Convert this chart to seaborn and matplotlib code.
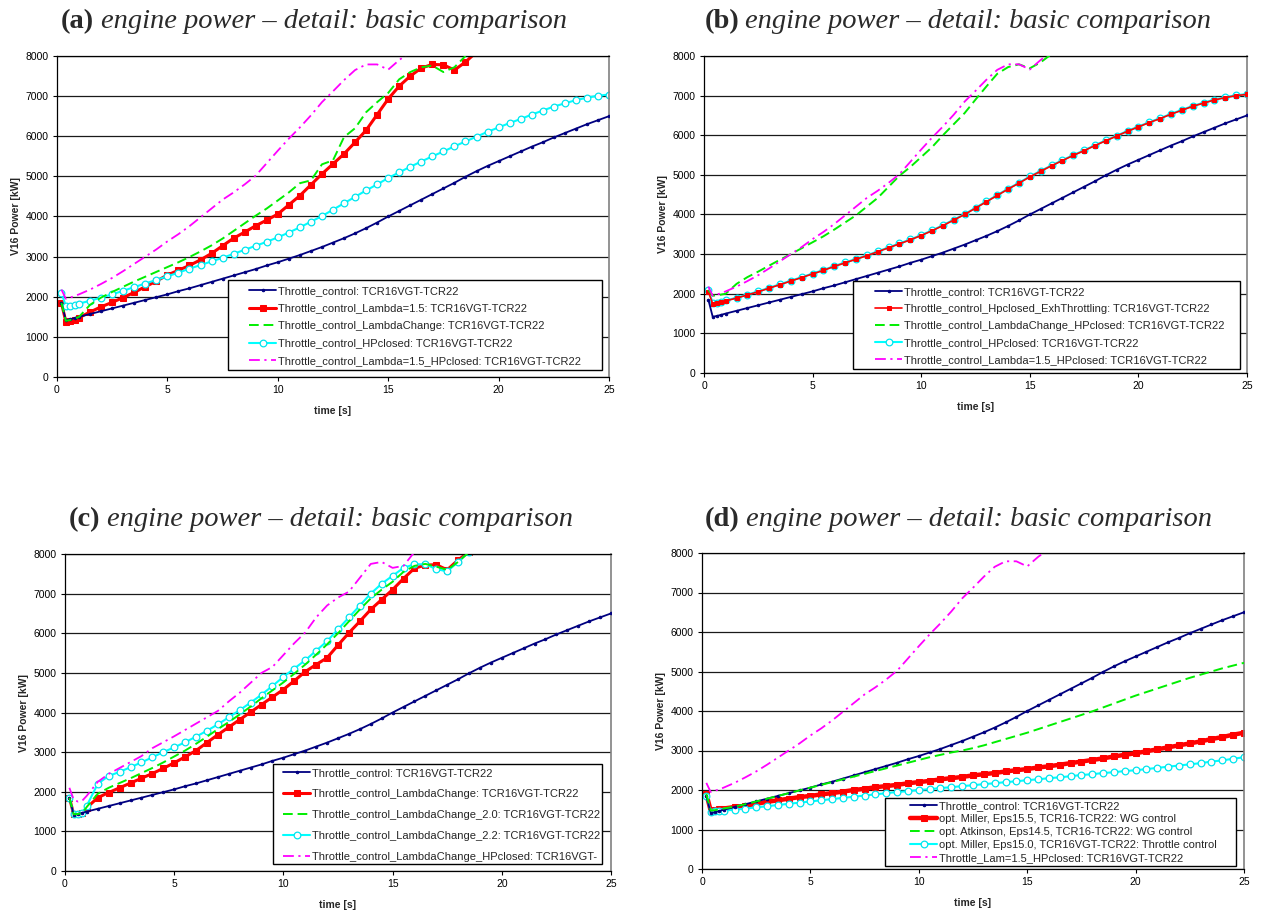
import numpy as np
import matplotlib
matplotlib.use("Agg")
import matplotlib.pyplot as plt
from matplotlib.patches import Rectangle
from matplotlib.font_manager import FontProperties
import seaborn as sns

# time grid [s]
T = np.r_[0.2, 0.4, 0.6, 0.8, np.arange(1.0, 25.01, 0.5)]

# V16 power [kW] (series stop once they leave the top)
throttle = [1850, 1420, 1440, 1470,
            1500, 1570, 1640, 1710, 1780, 1850, 1920, 1990, 2060, 2140,
            2210, 2290, 2370, 2450, 2530, 2610, 2690, 2780, 2860, 2950,
            3040, 3140, 3240, 3350, 3460, 3580, 3710, 3850, 4000, 4140,
            4280, 4420, 4560, 4700, 4840, 4990, 5130, 5260, 5380, 5500,
            5620, 5740, 5850, 5970, 6080, 6190, 6300, 6400, 6500]

hp_closed = [2100, 1770, 1770, 1790,
             1830, 1900, 1980, 2060, 2150, 2240, 2330, 2420, 2510, 2600,
             2700, 2790, 2880, 2970, 3070, 3170, 3270, 3370, 3480, 3600,
             3730, 3870, 4010, 4170, 4330, 4490, 4650, 4800, 4960, 5100,
             5240, 5370, 5500, 5620, 5750, 5870, 5990, 6110, 6220, 6330,
             6430, 6540, 6640, 6740, 6820, 6900, 6960, 7010, 7040]

hp_exh_throttling = [2050, 1750, 1760, 1780,
                     1820, 1890, 1970, 2050, 2140, 2230, 2320, 2410, 2500, 2590,
                     2690, 2780, 2870, 2960, 3060, 3160, 3260, 3360, 3470, 3590,
                     3720, 3860, 4000, 4160, 4320, 4480, 4640, 4790, 4950, 5090,
                     5230, 5360, 5490, 5610, 5740, 5860, 5980, 6100, 6210, 6320,
                     6420, 6530, 6630, 6730, 6810, 6890, 6950, 7000, 7030]

lambda15 = [1850, 1380, 1400, 1430,
            1480, 1620, 1750, 1860, 1980, 2110, 2250, 2390, 2540, 2660,
            2780, 2920, 3080, 3270, 3460, 3610, 3770, 3910, 4060, 4290,
            4520, 4790, 5060, 5310, 5560, 5850, 6150, 6540, 6930, 7250,
            7500, 7700, 7790, 7780, 7650, 7850, 8100]

lambda_change = [1850, 1400, 1420, 1450,
                 1500, 1800, 1980, 2120, 2250, 2380, 2500, 2620, 2740, 2860,
                 2990, 3130, 3280, 3450, 3640, 3830, 4020, 4200, 4400, 4600,
                 4830, 4900, 5300, 5400, 5980, 6200, 6600, 6850, 7080, 7420,
                 7600, 7720, 7760, 7600, 7720, 8000]

lambda15_hp = [2180, 1950, 1980, 2020,
               2060, 2180, 2320, 2470, 2640, 2820, 3000, 3180, 3380, 3560,
               3760, 3980, 4200, 4420, 4600, 4800, 5020, 5330, 5640, 5940,
               6220, 6520, 6850, 7120, 7400, 7650, 7790, 7790, 7660, 7900,
               8100]

lambda_change_hp = [2100, 1950, 1960, 1980,
                    2000, 2250, 2420, 2560, 2710, 2860, 3000, 3150, 3300, 3450,
                    3620, 3800, 3980, 4200, 4420, 4700, 4980, 5200, 5450, 5700,
                    6000, 6280, 6560, 6900, 7230, 7550, 7720, 7790, 7690, 7840,
                    8050]

lc_red = [1850, 1430, 1440, 1460,
          1600, 1850, 1980, 2100, 2220, 2340, 2460, 2590, 2730, 2880,
          3040, 3240, 3440, 3630, 3820, 4010, 4200, 4390, 4580, 4800,
          5030, 5210, 5380, 5700, 6010, 6300, 6600, 6850, 7100, 7380,
          7640, 7720, 7730, 7600, 7850, 8050]

lc_20 = [1850, 1430, 1440, 1460,
         1620, 1950, 2100, 2220, 2340, 2470, 2600, 2740, 2890, 3040,
         3210, 3390, 3580, 3760, 3950, 4150, 4360, 4560, 4760, 4980,
         5210, 5460, 5720, 6000, 6300, 6600, 6880, 7100, 7300, 7550,
         7700, 7750, 7680, 7600, 7800, 8050]

lc_22 = [1850, 1430, 1440, 1470,
         1650, 2200, 2400, 2500, 2620, 2740, 2870, 3000, 3120, 3250,
         3390, 3540, 3700, 3880, 4060, 4250, 4450, 4670, 4900, 5110,
         5320, 5560, 5800, 6100, 6400, 6700, 7000, 7250, 7450, 7650,
         7740, 7740, 7620, 7560, 7800, 8050]

lc_hp = [2100, 1800, 1750, 1780,
         1900, 2250, 2450, 2600, 2750, 2900, 3100, 3250, 3400, 3560,
         3720, 3880, 4040, 4280, 4500, 4750, 5000, 5150, 5450, 5750,
         6020, 6400, 6700, 6900, 7050, 7400, 7750, 7800, 7650, 7700,
         8050]

miller155 = [1900, 1480, 1490, 1510,
             1530, 1570, 1600, 1650, 1700, 1740, 1780, 1820, 1850, 1890,
             1920, 1960, 2000, 2030, 2070, 2100, 2130, 2170, 2200, 2230,
             2270, 2300, 2330, 2370, 2400, 2430, 2470, 2500, 2530, 2570,
             2600, 2640, 2680, 2720, 2760, 2800, 2850, 2890, 2930, 2980,
             3030, 3080, 3130, 3180, 3230, 3290, 3340, 3400, 3450]

atkinson145 = [1900, 1480, 1490, 1510,
               1530, 1580, 1640, 1710, 1780, 1850, 1920, 1990, 2060, 2130,
               2200, 2270, 2340, 2410, 2480, 2550, 2620, 2690, 2760, 2830,
               2890, 2950, 3000, 3060, 3130, 3210, 3290, 3370, 3450, 3540,
               3630, 3720, 3810, 3900, 3990, 4090, 4190, 4290, 4390, 4480,
               4570, 4660, 4750, 4840, 4920, 5000, 5080, 5150, 5220]

miller150 = [1850, 1450, 1460, 1470,
             1480, 1500, 1530, 1560, 1590, 1620, 1650, 1680, 1710, 1740,
             1770, 1800, 1830, 1860, 1890, 1920, 1950, 1970, 2000, 2020,
             2050, 2070, 2100, 2120, 2150, 2170, 2200, 2220, 2250, 2270,
             2300, 2320, 2350, 2380, 2400, 2430, 2450, 2480, 2500, 2530,
             2560, 2590, 2620, 2650, 2680, 2720, 2750, 2790, 2830]

# line styles
NAVY = dict(color="#000080", lw=1.3, marker="o", markersize=1.8,
            markeredgecolor="#000080", markerfacecolor="#000080")
RED = dict(color="#FF0000", lw=2.2, marker="s", markersize=4.8,
           markeredgecolor="#FF0000", markerfacecolor="#FF0000")
GREEN = dict(color="#00EE00", lw=1.4, dashes=(5, 2.5))
CYAN = dict(color="#00FFFF", lw=1.5, marker="o", markersize=4.8,
            markeredgecolor="#00E5EE", markerfacecolor="white", markeredgewidth=0.9)
MAGENTA = dict(color="#FF00FF", lw=1.3, dashes=(6, 2.5, 1.2, 2.5))

W, H = 1263, 913

sns.set_style("white")
plt.rcParams["font.family"] = ["Liberation Sans", "DejaVu Sans"]

fig = plt.figure(figsize=(W / 100, H / 100), dpi=100)


def draw(ax, y, style, label, z=2):
    sns.lineplot(x=T[:len(y)], y=y, ax=ax, estimator=None, sort=False,
                 label=label, zorder=z, **style)
    return ax.lines[-1]


panels = [
    dict(tag="(a)", box=(57, 609, 56, 377), leg=(228, 602, 280, 370),
         hx=249, rows=(290, 362), fs=8, ls=0.68,
         title=(61, 101, 28),
         series=[(throttle, NAVY, "Throttle_control: TCR16VGT-TCR22", 3),
                 (lambda15, RED, "Throttle_control_Lambda=1.5: TCR16VGT-TCR22", 2),
                 (lambda_change, GREEN, "Throttle_control_LambdaChange: TCR16VGT-TCR22", 3),
                 (hp_closed, CYAN, "Throttle_control_HPclosed: TCR16VGT-TCR22", 2),
                 (lambda15_hp, MAGENTA, "Throttle_control_Lambda=1.5_HPclosed: TCR16VGT-TCR22", 3)]),
    dict(tag="(b)", box=(704, 1247, 56, 373), leg=(853, 1240, 281, 369),
         hx=875, rows=(291, 361), fs=8, ls=0.64,
         title=(705, 745, 28),
         series=[(throttle, NAVY, "Throttle_control: TCR16VGT-TCR22", 3),
                 (hp_exh_throttling, dict(RED, lw=1.2, markersize=2.8),
                  "Throttle_control_Hpclosed_ExhThrottling: TCR16VGT-TCR22", 3),
                 (lambda_change_hp, GREEN, "Throttle_control_LambdaChange_HPclosed: TCR16VGT-TCR22", 3),
                 (hp_closed, CYAN, "Throttle_control_HPclosed: TCR16VGT-TCR22", 2),
                 (lambda15_hp, MAGENTA, "Throttle_control_Lambda=1.5_HPclosed: TCR16VGT-TCR22", 3)]),
    dict(tag="(c)", box=(65, 611, 554, 871), leg=(273, 602, 764, 864),
         hx=283, rows=(772, 858), fs=8, ls=1.0,
         title=(69, 107, 526),
         series=[(throttle, NAVY, "Throttle_control: TCR16VGT-TCR22", 3),
                 (lc_red, RED, "Throttle_control_LambdaChange: TCR16VGT-TCR22", 2),
                 (lc_20, GREEN, "Throttle_control_LambdaChange_2.0: TCR16VGT-TCR22", 3),
                 (lc_22, CYAN, "Throttle_control_LambdaChange_2.2: TCR16VGT-TCR22", 2),
                 (lc_hp, MAGENTA, "Throttle_control_LambdaChange_HPclosed: TCR16VGT-", 3)]),
    dict(tag="(d)", box=(702, 1244, 553, 869), leg=(885, 1236, 798, 866),
         hx=910, rows=(805, 859), fs=8, ls=0.28,
         title=(705, 746, 526),
         series=[(throttle, NAVY, "Throttle_control: TCR16VGT-TCR22", 3),
                 (miller155, dict(RED, lw=3.2), "opt. Miller, Eps15.5, TCR16-TCR22: WG control", 2),
                 (atkinson145, GREEN, "opt. Atkinson, Eps14.5, TCR16-TCR22: WG control", 3),
                 (miller150, CYAN, "opt. Miller, Eps15.0, TCR16VGT-TCR22: Throttle control", 2),
                 (lambda15_hp, MAGENTA, "Throttle_Lam=1.5_HPclosed: TCR16VGT-TCR22", 3)]),
]

for p in panels:
    l, r, t, b = p["box"]
    ax = fig.add_axes([l / W, 1 - b / H, (r - l) / W, (b - t) / H])
    aw, ah = r - l, b - t

    handles = [draw(ax, y, st, lab, z) for y, st, lab, z in p["series"]]

    ax.set_xlim(0, 25)
    ax.set_ylim(0, 8000)
    ax.set_xticks(range(0, 26, 5))
    ax.set_yticks(range(0, 8001, 1000))
    ax.grid(axis="y", color="#1a1a1a", lw=0.9)
    ax.grid(axis="x", visible=False)
    ax.set_axisbelow(True)
    ax.tick_params(direction="out", length=3, width=0.8, pad=3,
                   labelsize=7.5, colors="black", left=True, bottom=True)
    for side in ["left", "bottom", "top"]:
        ax.spines[side].set_color("black")
        ax.spines[side].set_linewidth(0.9)
    ax.spines["right"].set_color("#808080")
    ax.spines["right"].set_linewidth(1.2)

    ax.set_xlabel("time [s]", fontsize=7.5, fontweight="bold")
    ax.set_ylabel("V16 Power [kW]", fontsize=7.5, fontweight="bold")
    ax.xaxis.set_label_coords(0.5, -29 / ah)
    ax.yaxis.set_label_coords(-36 / aw, 0.5)

    # legend box
    lx0, lx1, ly0, ly1 = p["leg"]
    ax.add_patch(Rectangle(((lx0 - l) / aw, (b - ly1) / ah),
                           (lx1 - lx0) / aw, (ly1 - ly0) / ah,
                           transform=ax.transAxes, facecolor="white",
                           edgecolor="black", lw=1.0, zorder=4, clip_on=False))
    r0, r1 = p["rows"]
    leg = ax.legend(handles=handles, labels=[s[2] for s in p["series"]],
                    loc="center left",
                    bbox_to_anchor=((p["hx"] - l) / aw, (b - (r0 + r1) / 2) / ah),
                    frameon=False, borderpad=0, borderaxespad=0,
                    handlelength=2.45, handletextpad=0.15, labelspacing=p["ls"],
                    prop=FontProperties(family="Liberation Sans", size=p["fs"]))
    leg.set_zorder(6)

    bx, ix, base = p["title"]
    fig.text(bx / W, 1 - base / H, p["tag"], ha="left", va="baseline",
             fontsize=20.5, fontweight="bold", family="Liberation Serif", color="#2a2a2a")
    fig.text(ix / W, 1 - base / H, "engine power \u2013 detail: basic comparison",
             ha="left", va="baseline", fontsize=20.5, style="italic",
             family="Liberation Serif", color="#2a2a2a")

fig.savefig("out.png", dpi=100)
